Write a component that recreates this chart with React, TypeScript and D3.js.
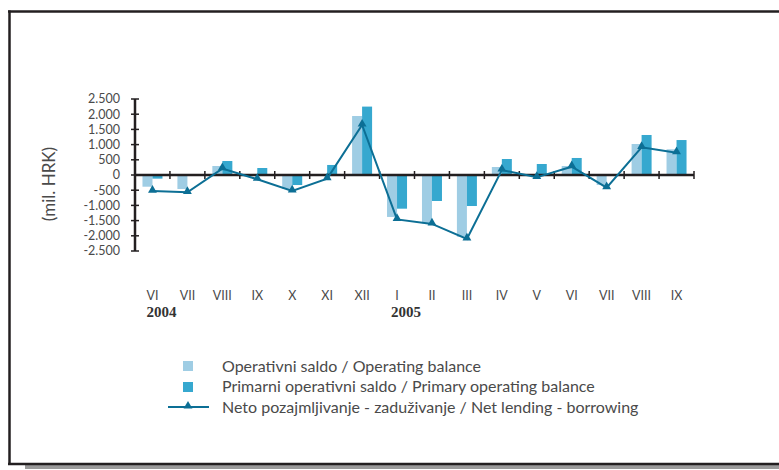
import React from "react";
import * as d3 from "d3";

const months = ["VI", "VII", "VIII", "IX", "X", "XI", "XII", "I", "II", "III", "IV", "V", "VI", "VII", "VIII", "IX"];
const yearLabels = [
  { index: 0, label: "2004" },
  { index: 7, label: "2005" },
];
const operatingBalance = [-385, -460, 296, -30, -460, -20, 1940, -1380, -1590, -2030, 263, -30, 296, -330, 1020, 845];
const primaryOperatingBalance = [-120, -20, 460, 230, -330, 330, 2250, -1108, -855, -1020, 526, 362, 560, -20, 1316, 1150];
const netLending = [-530, -570, 210, -140, -525, -120, 1645, -1460, -1610, -2100, 164, -77, 273, -417, 910, 734];
const yTicks = [2500, 2000, 1500, 1000, 500, 0, -500, -1000, -1500, -2000, -2500];
const legendLabels = [
  "Operativni saldo / Operating balance",
  "Primarni operativni saldo / Primary operating balance",
  "Neto pozajmljivanje - zaduživanje / Net lending - borrowing",
];
const yAxisTitle = "(mil. HRK)";

const C_LIGHT = "#9fcde4";
const C_DARK = "#36a8cf";
const C_LINE = "#0c6f95";
const C_AXIS = "#231f20";
const C_TEXT = "#4a4a4a";
const FONT = "Lato, 'Open Sans', sans-serif";

const locale = d3.formatLocale({ decimal: ",", thousands: ".", grouping: [3], currency: ["", ""], minus: "-" });
const fmt = locale.format(",d");

export default function App() {
  const W = 779;
  const H = 470;
  const x0 = d3.scaleBand<number>().domain(d3.range(months.length)).range([135, 694]).paddingInner(0).paddingOuter(0);
  const x1 = d3.scaleBand<string>().domain(["op", "prim"]).range([0, x0.bandwidth()]).paddingInner(0).paddingOuter(0.747);
  const y = d3.scaleLinear().domain([-2500, 2500]).range([251, 99]);
  const y0 = y(0);
  const line = d3
    .line<number>()
    .x((_, i) => (x0(i) as number) + x0.bandwidth() / 2)
    .y((d) => y(d));
  const tri = d3.symbol().type(d3.symbolTriangle).size(34);

  const boundaries = d3.range(months.length + 1).map((i) => 135 + i * x0.bandwidth());

  return (
    <div style={{ position: "absolute", left: 0, top: 0, width: W, height: H }}>
      <svg width={W} height={H} style={{ display: "block" }}>
        <rect x={0} y={0} width={W} height={H} fill="#fff" />
        {/* frame shadow */}
        <rect x={25} y={465} width={W} height={4} fill="#9a9a9a" />
        {/* frame */}
        <line x1={8} y1={11.5} x2={W} y2={11.5} stroke={C_AXIS} strokeWidth={2.5} />
        <line x1={9.5} y1={10.5} x2={9.5} y2={465} stroke={C_AXIS} strokeWidth={2.5} />
        <line x1={8} y1={464} x2={W} y2={464} stroke={C_AXIS} strokeWidth={2.5} />

        {/* bars */}
        {operatingBalance.map((v, i) => (
          <rect
            key={"op" + i}
            x={(x0(i) as number) + (x1("op") as number)}
            y={Math.min(y(v), y0)}
            width={x1.bandwidth()}
            height={Math.abs(y(v) - y0)}
            fill={C_LIGHT}
          />
        ))}
        {primaryOperatingBalance.map((v, i) => (
          <rect
            key={"pr" + i}
            x={(x0(i) as number) + (x1("prim") as number)}
            y={Math.min(y(v), y0)}
            width={x1.bandwidth()}
            height={Math.abs(y(v) - y0)}
            fill={C_DARK}
          />
        ))}

        {/* y axis */}
        <line x1={135} y1={y(2500)} x2={135} y2={y(-2500)} stroke={C_AXIS} strokeWidth={2.5} />
        {yTicks.map((t) => (
          <g key={t}>
            <line x1={131} x2={139} y1={y(t)} y2={y(t)} stroke={C_AXIS} strokeWidth={1.5} />
            <text x={120} y={y(t)} dy="0.35em" textAnchor="end" fontFamily={FONT} fontSize={12.5} fill={C_TEXT}>
              {fmt(t)}
            </text>
          </g>
        ))}

        {/* zero line */}
        <line x1={135} y1={y0} x2={694} y2={y0} stroke={C_AXIS} strokeWidth={2.5} />
        {boundaries.slice(1).map((bx, i) => (
          <line key={i} x1={bx} x2={bx} y1={y0 - 4} y2={y0 + 4} stroke={C_AXIS} strokeWidth={1.5} />
        ))}

        {/* line series */}
        <path d={line(netLending) || ""} fill="none" stroke={C_LINE} strokeWidth={2} />
        {netLending.map((v, i) => (
          <path
            key={"m" + i}
            d={tri() || ""}
            transform={`translate(${(x0(i) as number) + x0.bandwidth() / 2},${y(v) - 1})`}
            fill={C_LINE}
          />
        ))}

        {/* x labels */}
        {months.map((m, i) => (
          <text
            key={"xl" + i}
            x={(x0(i) as number) + x0.bandwidth() / 2}
            y={300}
            textAnchor="middle"
            fontFamily={FONT}
            fontSize={12.5}
            fill={C_TEXT}
          >
            {m}
          </text>
        ))}
        {yearLabels.map((yl) => (
          <text
            key={yl.label}
            x={(x0(yl.index) as number) + x0.bandwidth() / 2 - 6}
            y={317}
            fontFamily="'Liberation Serif', serif"
            fontWeight="bold"
            fontSize={15}
            fill="#333"
          >
            {yl.label}
          </text>
        ))}

        {/* y title */}
        <text
          transform="translate(55,184) rotate(-90)"
          textAnchor="middle"
          fontFamily={FONT}
          fontSize={17}
          fill={C_TEXT}
        >
          {yAxisTitle}
        </text>

        {/* legend */}
        <rect x={183} y={361} width={10} height={10} fill={C_LIGHT} />
        <rect x={183} y={382} width={10} height={10} fill={C_DARK} />
        <line x1={168} x2={209} y1={407} y2={407} stroke={C_LINE} strokeWidth={2} />
        <path d={tri() || ""} transform="translate(188,406)" fill={C_LINE} />
        {legendLabels.map((l, i) => (
          <text
            key={l}
            x={222}
            y={366 + i * 20.5}
            dy="0.35em"
            fontFamily={FONT}
            fontSize={16}
            fill={C_TEXT}
          >
            {l}
          </text>
        ))}
      </svg>
    </div>
  );
}
